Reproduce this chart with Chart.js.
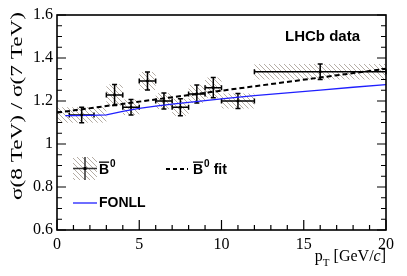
<!DOCTYPE html>
<html>
<head>
<meta charset="utf-8">
<script src="https://cdn.jsdelivr.net/npm/chart.js@4.4.1/dist/chart.umd.min.js"></script>
<style>
  html, body { margin: 0; padding: 0; background: #fff; }
  #wrap { width: 407px; height: 276px; }
</style>
</head>
<body>
<div id="wrap"><canvas id="ratioChart"></canvas></div>
<script>
// B0 cross-section ratio 8 TeV / 7 TeV vs pT
var binLo = [0, 3, 4, 5, 6, 7, 8, 9, 10, 12];
var binHi = [3, 4, 5, 6, 7, 8, 9, 10, 12, 20];
var ptCenter = [1.5, 3.5, 4.5, 5.5, 6.5, 7.5, 8.5, 9.5, 11, 16];
var barLo = [0.75, 3, 4, 5, 6, 7, 8, 9, 10, 12];
var barHi = [2.25, 4, 5, 6, 7, 8, 9, 10, 12, 20];
var ratio = [1.135, 1.228, 1.171, 1.293, 1.200, 1.171, 1.233, 1.262, 1.200, 1.336];
var ratioErr = [0.036, 0.049, 0.036, 0.042, 0.037, 0.040, 0.042, 0.047, 0.035, 0.036];

var fitPt = [0, 20];
var fitVal = [1.146, 1.350];

var fonllPt = [0.5, 1, 2, 3, 4, 5, 6, 7, 8, 10, 12, 14, 16, 18, 20];
var fonllVal = [1.132, 1.132, 1.133, 1.135, 1.152, 1.166, 1.176, 1.185, 1.194, 1.210, 1.225, 1.238, 1.251, 1.264, 1.276];

var xTicks = [0, 5, 10, 15, 20];
var yTicks = [0.6, 0.8, 1.0, 1.2, 1.4, 1.6];

function toXY(xs, ys) {
    return xs.map(function (x, i) { return { x: x, y: ys[i] }; });
}

// hatch pattern for the systematic boxes
function makeHatch() {
    var c = document.createElement("canvas");
    c.width = 5; c.height = 5;
    var g = c.getContext("2d");
    g.strokeStyle = "#b5ada5";
    g.lineWidth = 1;
    g.beginPath();
    g.moveTo(-1, -1); g.lineTo(6, 6);
    g.moveTo(-1, 4); g.lineTo(1, 6);
    g.moveTo(4, -1); g.lineTo(6, 1);
    g.stroke();
    return g.createPattern(c, "repeat");
}

var serif = "'Liberation Serif', 'Times New Roman', serif";
var sans = "'Liberation Sans', Arial, sans-serif";

var decor = {
    id: "decor",
    beforeDatasetsDraw: function (chart) {
        var ctx = chart.ctx, xs = chart.scales.x, ys = chart.scales.y;
        var hatch = makeHatch();
        ctx.save();
        ctx.fillStyle = hatch;
        for (var i = 0; i < ratio.length; i++) {
            var x0 = xs.getPixelForValue(binLo[i]), x1 = xs.getPixelForValue(binHi[i]);
            var y0 = ys.getPixelForValue(ratio[i] + ratioErr[i]), y1 = ys.getPixelForValue(ratio[i] - ratioErr[i]);
            ctx.fillRect(x0, y0, x1 - x0, y1 - y0);
        }
        // error bars
        ctx.strokeStyle = "#000";
        ctx.lineWidth = 1.5;
        for (i = 0; i < ratio.length; i++) {
            var cx = xs.getPixelForValue(ptCenter[i]), cy = ys.getPixelForValue(ratio[i]);
            var l = xs.getPixelForValue(barLo[i]), r = xs.getPixelForValue(barHi[i]);
            var t = ys.getPixelForValue(ratio[i] + ratioErr[i]), b = ys.getPixelForValue(ratio[i] - ratioErr[i]);
            ctx.beginPath();
            ctx.moveTo(l, cy); ctx.lineTo(r, cy);
            ctx.moveTo(l, cy - 2.5); ctx.lineTo(l, cy + 2.5);
            ctx.moveTo(r, cy - 2.5); ctx.lineTo(r, cy + 2.5);
            ctx.moveTo(cx, t); ctx.lineTo(cx, b);
            ctx.moveTo(cx - 2.5, t); ctx.lineTo(cx + 2.5, t);
            ctx.moveTo(cx - 2.5, b); ctx.lineTo(cx + 2.5, b);
            ctx.stroke();
        }
        ctx.restore();
    },
    afterDraw: function (chart) {
        var ctx = chart.ctx, a = chart.chartArea, xs = chart.scales.x, ys = chart.scales.y;
        ctx.save();
        // frame
        ctx.strokeStyle = "#000";
        ctx.lineWidth = 1.6;
        ctx.strokeRect(a.left, a.top, a.right - a.left, a.bottom - a.top);
        // inward ticks
        ctx.lineWidth = 1.2;
        ctx.beginPath();
        for (var v = 0; v <= 20; v++) {
            var px = xs.getPixelForValue(v), len = v % 5 === 0 ? 10 : 5;
            ctx.moveTo(px, a.bottom); ctx.lineTo(px, a.bottom - len);
        }
        for (var k = 0; k <= 20; k++) {
            var py = ys.getPixelForValue(0.6 + k * 0.05), ln = k % 4 === 0 ? 9 : 5;
            ctx.moveTo(a.left, py); ctx.lineTo(a.left + ln, py);
            ctx.moveTo(a.right, py); ctx.lineTo(a.right - ln, py);
        }
        ctx.stroke();

        // axis titles
        ctx.fillStyle = "#000";
        ctx.font = "16px " + serif;
        ctx.textBaseline = "alphabetic";
        ctx.textAlign = "right";
        var tail = " [GeV/";
        ctx.fillText("]", a.right, 261);
        var rW = ctx.measureText("]").width;
        ctx.font = "italic 16px " + serif;
        ctx.fillText("c", a.right - rW, 261);
        var icW = ctx.measureText("c").width;
        ctx.font = "16px " + serif;
        var xEnd = a.right - rW - icW;
        ctx.fillText(tail, xEnd, 261);
        xEnd -= ctx.measureText(tail).width;
        ctx.font = "11px " + serif;
        ctx.fillText("T", xEnd, 266);
        xEnd -= ctx.measureText("T").width;
        ctx.font = "16px " + serif;
        ctx.fillText("p", xEnd, 261);

        // y title, top aligned, stretched to the reference length
        var yTitle = "\u03c3(8 TeV) / \u03c3(7 TeV)";
        ctx.save();
        ctx.translate(22, 12);
        ctx.rotate(-Math.PI / 2);
        ctx.font = "17px " + serif;
        var tw = ctx.measureText(yTitle).width;
        ctx.scale(188 / tw, 1);
        ctx.textAlign = "right";
        ctx.fillText(yTitle, 0, 0);
        ctx.restore();

        // LHCb data label
        ctx.textAlign = "left";
        ctx.textBaseline = "middle";
        ctx.font = "bold 15px " + sans;
        ctx.fillText("LHCb data", 285, 37);

        // legend
        var hatch = makeHatch();
        ctx.fillStyle = hatch;
        ctx.fillRect(73, 157, 24, 23);
        ctx.strokeStyle = "#333";
        ctx.lineWidth = 1.5;
        ctx.beginPath();
        ctx.moveTo(73, 168.5); ctx.lineTo(97, 168.5);
        ctx.moveTo(85, 157); ctx.lineTo(85, 180);
        ctx.stroke();
        ctx.fillStyle = "#000";
        ctx.fillRect(83.5, 167, 3, 3);

        function barB(x, y) {
            ctx.font = "bold 14px " + sans;
            ctx.textAlign = "left";
            ctx.textBaseline = "alphabetic";
            ctx.fillText("B", x, y);
            var w = ctx.measureText("B").width;
            ctx.fillRect(x, y - 12.5, w, 1.3);
            ctx.font = "bold 10px " + sans;
            ctx.fillText("0", x + w + 1, y - 7);
            return x + w + 1 + ctx.measureText("0").width;
        }
        barB(99, 174);

        ctx.strokeStyle = "#000";
        ctx.lineWidth = 2;
        ctx.setLineDash([4, 3]);
        ctx.beginPath();
        ctx.moveTo(166, 169); ctx.lineTo(188, 169);
        ctx.stroke();
        ctx.setLineDash([]);
        var e = barB(193, 174);
        ctx.font = "bold 14px " + sans;
        ctx.fillText("fit", e + 4, 174);

        ctx.strokeStyle = "#1f1fff";
        ctx.lineWidth = 1.3;
        ctx.beginPath();
        ctx.moveTo(73, 203); ctx.lineTo(97, 203);
        ctx.stroke();
        ctx.fillStyle = "#000";
        ctx.font = "bold 14px " + sans;
        ctx.textBaseline = "middle";
        ctx.fillText("FONLL", 99, 203);
        ctx.restore();
    }
};

var ctx = document.getElementById("ratioChart").getContext("2d");
var chart = new Chart(ctx, {
    type: "scatter",
    data: {
        datasets: [{
            label: "B0",
            data: toXY(ptCenter, ratio),
            pointStyle: "rect",
            pointRadius: 1.8,
            backgroundColor: "#000",
            borderColor: "#000",
            borderWidth: 0,
            showLine: false
        }, {
            label: "B0 fit",
            data: toXY(fitPt, fitVal),
            showLine: true,
            borderColor: "#000",
            borderWidth: 2,
            borderDash: [5, 3],
            pointRadius: 0
        }, {
            label: "FONLL",
            data: toXY(fonllPt, fonllVal),
            showLine: true,
            borderColor: "#1f1fff",
            borderWidth: 1.3,
            pointRadius: 0
        }]
    },
    options: {
        responsive: true,
        maintainAspectRatio: false,
        animation: false,
        layout: { padding: { left: 0, top: 15, right: 21, bottom: 0 } },
        plugins: { legend: { display: false }, tooltip: { enabled: false } },
        scales: {
            x: {
                type: "linear",
                min: 0, max: 20,
                afterFit: function (s) { s.height = 46; },
                afterBuildTicks: function (s) { s.ticks = xTicks.map(function (v) { return { value: v }; }); },
                grid: { display: false, drawTicks: false },
                border: { display: false },
                ticks: { color: "#000", font: { family: serif, size: 16 }, padding: 5, maxRotation: 0 }
            },
            y: {
                min: 0.6, max: 1.6,
                afterFit: function (s) { s.width = 57; },
                afterBuildTicks: function (s) { s.ticks = yTicks.map(function (v) { return { value: v }; }); },
                grid: { display: false, drawTicks: false },
                border: { display: false },
                ticks: {
                    color: "#000", font: { family: serif, size: 16 }, padding: 4,
                    callback: function (v) { return String(parseFloat(v.toFixed(1))); }
                }
            }
        }
    },
    plugins: [decor]
});
</script>
</body>
</html>
